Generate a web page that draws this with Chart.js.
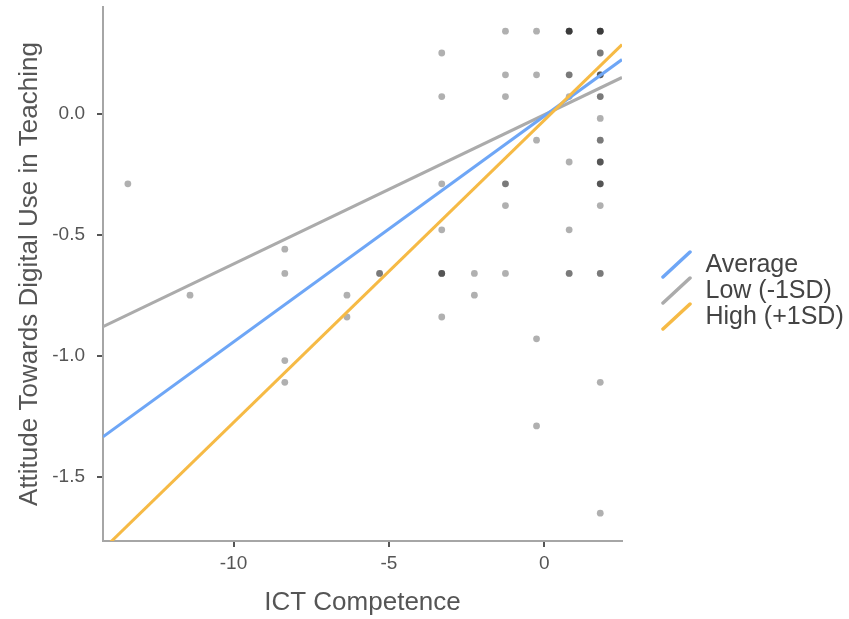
<!DOCTYPE html>
<html>
<head>
<meta charset="utf-8">
<title>ICT Competence vs Attitude</title>
<script src="https://cdn.jsdelivr.net/npm/chart.js@4.4.1/dist/chart.umd.min.js"></script>
<style>
    html, body { margin: 0; padding: 0; background: #ffffff; }
</style>
</head>
<body>
<canvas id="chart" width="849" height="619"></canvas>
<script>
// observed points (x, y) and how many respondents share the spot
const pointX = [
    -13.4, -11.4,
    -8.35, -8.35, -8.35, -8.35,
    -6.35, -6.35,
    -5.3,
    -3.3, -3.3, -3.3, -3.3, -3.3, -3.3,
    -2.25, -2.25,
    -1.25, -1.25, -1.25, -1.25, -1.25, -1.25,
    -0.25, -0.25, -0.25, -0.25, -0.25,
    0.8, 0.8, 0.8, 0.8, 0.8, 0.8,
    1.8, 1.8, 1.8, 1.8, 1.8, 1.8, 1.8, 1.8, 1.8, 1.8, 1.8, 1.8
];
const pointY = [
    -0.29, -0.75,
    -0.56, -0.66, -1.02, -1.11,
    -0.75, -0.84,
    -0.66,
    0.25, 0.07, -0.29, -0.48, -0.66, -0.84,
    -0.66, -0.75,
    0.34, 0.16, 0.07, -0.29, -0.38, -0.66,
    0.34, 0.16, -0.11, -0.93, -1.29,
    0.34, 0.16, 0.07, -0.20, -0.48, -0.66,
    0.34, 0.25, 0.16, 0.07, -0.02, -0.11, -0.20, -0.29, -0.38, -0.66, -1.11, -1.65
];
const pointCount = [
    1, 1,
    1, 1, 1, 1,
    1, 1,
    2,
    1, 1, 1, 1, 3, 1,
    1, 1,
    1, 1, 1, 2, 1, 1,
    1, 1, 1, 1, 1,
    4, 2, 1, 1, 1, 2,
    4, 2, 3, 2, 1, 2, 3, 3, 1, 2, 1, 1
];

// simple slopes, read at both ends of the x axis
const lineX = [-14.2, 2.5];
const averageY = [-1.335, 0.223];
const lowY = [-0.88, 0.149];
const highY = [-1.80, 0.285];

const lineNames = ['Average', 'Low (-1SD)', 'High (+1SD)'];
const lineColors = ['#6ea6f6', '#ababab', '#f6ba45'];

const xTicks = [-10, -5, 0];
const yTicks = [-1.5, -1.0, -0.5, 0.0];

const xTitle = 'ICT Competence';
const yTitle = 'Attitude Towards Digital Use in Teaching';

Chart.defaults.font.family = "'Liberation Sans', Arial, sans-serif";

function legendStroke(color) {
    const c = document.createElement('canvas');
    c.width = 68;
    c.height = 30;
    const ctx = c.getContext('2d');
    ctx.strokeStyle = color;
    ctx.lineWidth = 3.5;
    ctx.lineCap = 'round';
    ctx.beginPath();
    ctx.moveTo(39, 27);
    ctx.lineTo(66, 2);
    ctx.stroke();
    return c;
}

function toPoints(xs, ys) {
    return xs.map((x, i) => ({ x: x, y: ys[i] }));
}

const scatterData = [];
pointX.forEach((x, i) => {
    for (let k = 0; k < pointCount[i]; k++) {
        scatterData.push({ x: x, y: pointY[i] });
    }
});

const lineSeries = [averageY, lowY, highY];
const drawOrder = [1, 2, 0];

const datasets = lineSeries.map((ys, i) => ({
    label: lineNames[i],
    data: toPoints(lineX, ys),
    showLine: true,
    borderColor: lineColors[i],
    backgroundColor: lineColors[i],
    borderWidth: 3,
    pointRadius: 0,
    pointHoverRadius: 0,
    pointStyle: legendStroke(lineColors[i]),
    order: drawOrder[i]
}));

datasets.push({
    label: 'points',
    data: scatterData,
    pointRadius: 3.4,
    pointBorderWidth: 0,
    pointBackgroundColor: 'rgba(0, 0, 0, 0.31)',
    order: 3
});

// keep the plot box where the reference has it
function noEdgePadding(scale) {
    scale.paddingTop = 0;
    scale.paddingBottom = 0;
    scale.paddingLeft = 0;
    scale.paddingRight = 0;
}

new Chart(document.getElementById('chart'), {
    type: 'scatter',
    data: { datasets: datasets },
    options: {
        responsive: false,
        animation: false,
        layout: { padding: { left: 0, right: 0, top: 7, bottom: 0 } },
        plugins: {
            tooltip: { enabled: false },
            legend: {
                position: 'right',
                fullSize: false,
                maxWidth: 227,
                title: { display: true, text: ' ', padding: { top: 34, bottom: 0 }, font: { size: 1, lineHeight: 0 } },
                labels: {
                    usePointStyle: true,
                    pointStyleWidth: 70,
                    padding: 1,
                    color: '#444444',
                    font: { size: 25 },
                    filter: (item) => item.datasetIndex < 3,
                    sort: (a, b) => a.datasetIndex - b.datasetIndex
                }
            }
        },
        scales: {
            x: {
                type: 'linear',
                min: -14.2,
                max: 2.5,
                afterBuildTicks: (scale) => { scale.ticks = xTicks.map(v => ({ value: v })); },
                afterFit: (scale) => { scale.height = 78; noEdgePadding(scale); },
                border: { display: true, color: '#a6a6a6', width: 2 },
                grid: { drawOnChartArea: false, drawTicks: true, tickLength: 6, color: '#555555', lineWidth: 2 },
                ticks: { color: '#555555', font: { size: 19 }, padding: 5 },
                title: { display: true, text: xTitle, color: '#555555', font: { size: 26 }, padding: { top: 0, bottom: 1 } }
            },
            y: {
                type: 'linear',
                min: -1.765,
                max: 0.44,
                afterBuildTicks: (scale) => { scale.ticks = yTicks.map(v => ({ value: v })); },
                afterFit: (scale) => { scale.width = 103; noEdgePadding(scale); },
                border: { display: true, color: '#a6a6a6', width: 2 },
                grid: { drawOnChartArea: false, drawTicks: true, tickLength: 6, color: '#555555', lineWidth: 2 },
                ticks: { color: '#555555', font: { size: 19 }, padding: 12, callback: (v) => v.toFixed(1) },
                title: { display: true, text: yTitle, color: '#555555', font: { size: 26 }, padding: { top: 14, bottom: 0 } }
            }
        }
    }
});
</script>
</body>
</html>
